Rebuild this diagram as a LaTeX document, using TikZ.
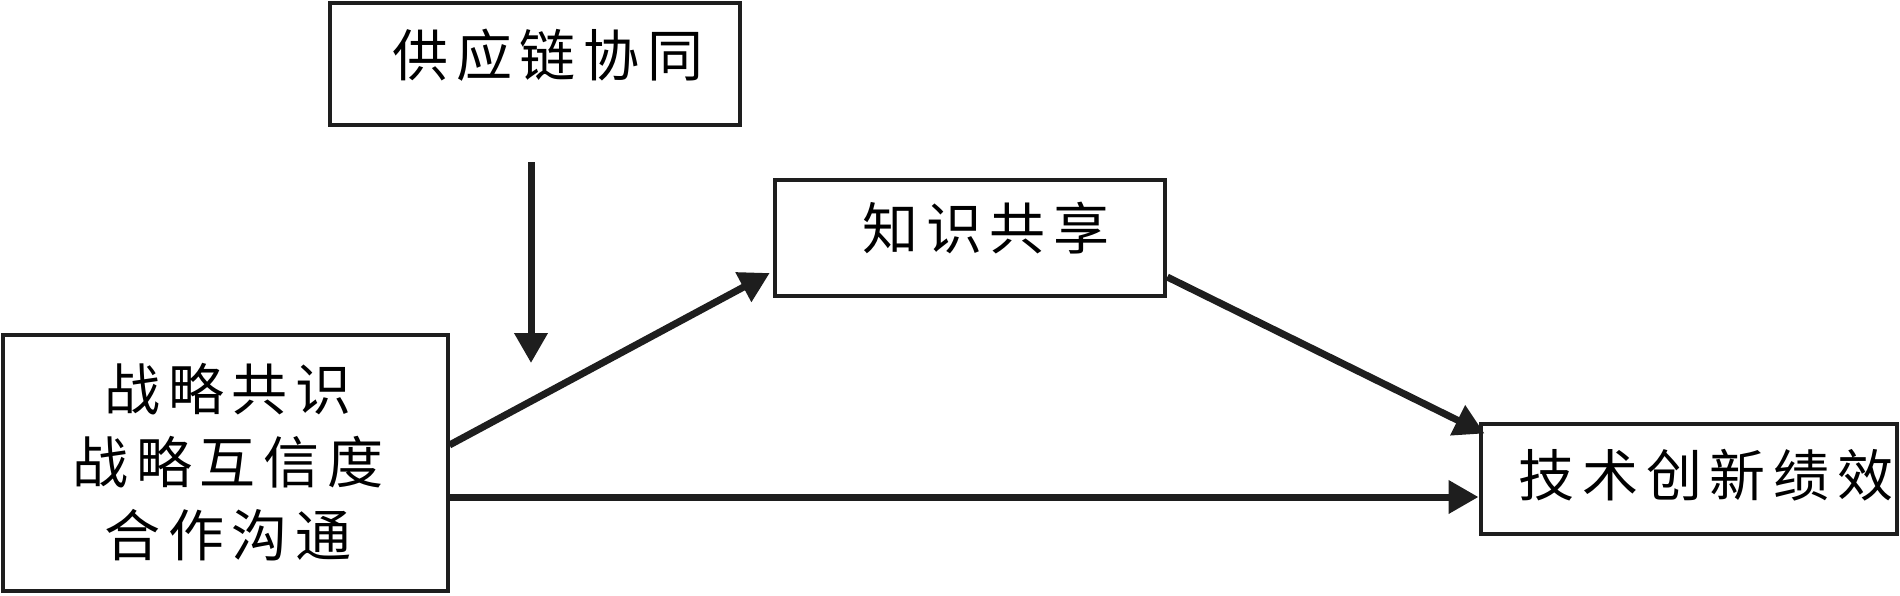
\documentclass[tikz,border=0pt]{standalone}
\usepackage{fontspec}
\newfontfamily\cjk[LetterSpace=14]{Noto Sans CJK SC}
\usetikzlibrary{arrows.meta}
\definecolor{ink}{RGB}{30,30,30}
\begin{document}
\begin{tikzpicture}[x=0.5pt,y=-0.5pt,>={Triangle[length=15pt,width=16pt]},
  box/.style={draw=ink,line width=2pt,inner sep=0pt},
  txt/.style={font=\cjk\fontsize{28}{36.5}\selectfont,align=center,inner sep=0pt},
  link/.style={->,draw=ink,line width=3.5pt}]
\useasboundingbox (0,0) rectangle (1900,595);
\node[box,minimum width=205pt,minimum height=60.75pt] (scc) at (535,64) {};
\node[box,minimum width=195.25pt,minimum height=58pt] (ks) at (970,237.5) {};
\node[box,minimum width=222.5pt,minimum height=128pt] (sc) at (225,463) {};
\node[box,minimum width=208.25pt,minimum height=55.25pt] (tip) at (1688.75,478.75) {};
\node[txt] (scct) at (548,55) {供应链协同};
\node[txt] (kst) at (986,228) {知识共享};
\node[txt] (sct) at (228,462) {战略共识\\战略互信度\\合作沟通};
\node[txt] (tipt) at (1706,475) {技术创新绩效};
\coordinate (mtop) at (531,162);
\coordinate (mbot) at (531,363);
\draw[link] (mtop)--(mbot);
\draw[link] ([yshift=9pt]sc.east)--([xshift=-1.5pt,yshift=-17.75pt]ks.west);
\draw[link] ([yshift=-19.75pt]ks.east)--([xshift=3pt,yshift=-6pt]tip.north west);
\draw[link] ([yshift=-17pt]sc.east)--([yshift=-17pt]sc.east -| tip.west);
\end{tikzpicture}
\end{document}
